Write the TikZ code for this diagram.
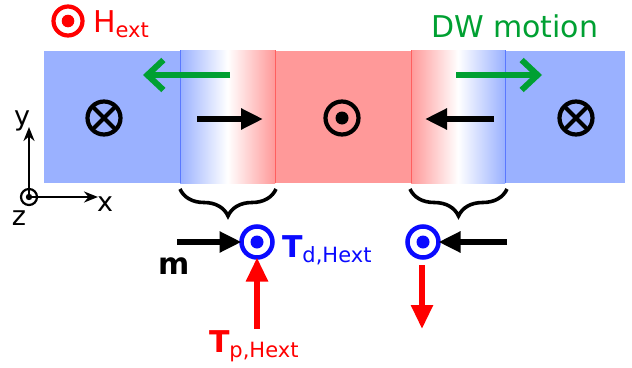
\documentclass[tikz,border=0pt]{standalone}
\usepackage{fontspec}
\setmainfont{DejaVu Sans}
\usetikzlibrary{arrows.meta,decorations.pathreplacing}
\definecolor{dblue}{RGB}{154,177,255}
\definecolor{dred}{RGB}{255,153,153}
\definecolor{lblue}{RGB}{90,120,255}
\definecolor{lred}{RGB}{255,95,95}
\definecolor{mgreen}{RGB}{0,160,50}
\definecolor{tblue}{RGB}{10,10,255}
\tikzset{
  ring/.style={circle,draw,line width=4.2pt,minimum size=33pt,inner sep=0pt,outer sep=0pt},
  lbl/.style={anchor=base west,inner sep=0pt,outer sep=0pt},
  marr/.style={line width=5.5pt,-{Triangle[length=22pt,width=20pt]}},
  garr/.style={mgreen,line width=6pt,-{Straight Barb[length=16pt,width=30pt]}},
  rarr/.style={red,line width=5.5pt,-{Triangle[length=24pt,width=21pt]}},
  axarr/.style={line width=2.2pt,-{Stealth[length=14pt,width=11pt]}},
  brc/.style={decorate,decoration={brace,mirror,amplitude=27pt},line width=3.6pt},
}
\begin{document}
\begin{tikzpicture}[x=1pt,y=-1pt]
\useasboundingbox (0,0) rectangle (632,367);
% strip
\fill[dblue] (44,51) rectangle (180,183);
\shade[left color=dblue,right color=dred,middle color=white] (180,50) rectangle (275,183);
\fill[dred] (275,51) rectangle (411,183);
\shade[left color=dred,right color=dblue,middle color=white] (411,50) rectangle (505,183);
\fill[dblue] (505,51) rectangle (625,183);
\draw[lblue,line width=0.8pt] (180,50) -- (180,183);
\draw[lred,line width=0.8pt] (275,50) -- (275,183);
\draw[lred,line width=0.8pt] (411,50) -- (411,183);
\draw[lblue,line width=0.8pt] (505,50) -- (505,183);
% H ext
\node[ring,draw=red,minimum size=29pt] (hring) at (68,21) {};
\fill[red] (hring.center) circle (6.3);
\node[lbl,text=red,font=\fontsize{30}{30}\selectfont] (hext) at (93,32) {H\raisebox{-5pt}{\fontsize{21}{21}\selectfont ext}};
% DW motion
\node[lbl,text=mgreen,font=\fontsize{30}{30}\selectfont] (dw) at (431,37) {DW motion};
\coordinate (g1s) at (230,75); \coordinate (g1e) at (143,75);
\coordinate (g2s) at (456,75); \coordinate (g2e) at (542,75);
\draw[garr] (g1s) -- (g1e);
\draw[garr] (g2s) -- (g2e);
% domain symbols
\node[ring] (oL) at (104,118) {};
\draw[line width=4pt] (oL.north west) -- (oL.south east) (oL.north east) -- (oL.south west);
\node[ring] (oM) at (342,118) {};
\fill (oM.center) circle (6.5);
\node[ring] (oR) at (576,118) {};
\draw[line width=4pt] (oR.north west) -- (oR.south east) (oR.north east) -- (oR.south west);
% wall magnetization arrows
\coordinate (w1s) at (197,119); \coordinate (w1e) at (263,119);
\coordinate (w2s) at (494,119); \coordinate (w2e) at (425,119);
\draw[marr] (w1s) -- (w1e);
\draw[marr] (w2s) -- (w2e);
% axes
\node[circle,draw,line width=2.2pt,minimum size=16pt,inner sep=0pt] (orig) at (29,197) {};
\fill (orig.center) circle (3.2);
\coordinate (ytip) at (29,127); \coordinate (xtip) at (98,197);
\draw[axarr] (orig.center) -- (ytip);
\draw[axarr] (orig.center) -- (xtip);
\node[lbl,font=\fontsize{27}{27}\selectfont] (ylab) at (14,125) {y};
\node[lbl,font=\fontsize{27}{27}\selectfont] (xlab) at (97,211) {x};
\node[lbl,font=\fontsize{27}{27}\selectfont] (zlab) at (12,225) {z};
% braces
\coordinate (b1a) at (180,189); \coordinate (b1b) at (276,189);
\coordinate (b2a) at (410,189); \coordinate (b2b) at (507,189);
\draw[brc] (b1a) -- (b1b);
\draw[brc] (b2a) -- (b2b);
% blue torque rings
\node[ring,draw=tblue,line width=4.5pt,minimum size=31pt] (tL) at (257,242) {};
\fill[tblue] (tL.center) circle (6.5);
\node[ring,draw=tblue,line width=4.5pt,minimum size=31pt] (tR) at (423,242) {};
\fill[tblue] (tR.center) circle (6.5);
% m arrows
\coordinate (m1s) at (177,242); \coordinate (m2s) at (507,242);
\draw[marr] (m1s) -- (tL.west);
\draw[marr] (m2s) -- (tR.east);
\node[lbl,font=\bfseries\fontsize{30}{30}\selectfont] (mlab) at (158,274) {m};
% T d
\node[lbl,text=tblue,font=\fontsize{30}{30}\selectfont] (td) at (282,257) {\textbf{T}\raisebox{-5pt}{\fontsize{21}{21}\selectfont d,Hext}};
% red arrows
\coordinate (r1s) at (257,329);
\coordinate (r2s) at (422,265); \coordinate (r2e) at (422,329);
\draw[rarr] (r1s) -- (tL.south);
\draw[rarr] (r2s) -- (r2e);
\node[lbl,text=red,font=\fontsize{30}{30}\selectfont] (tp) at (209,352) {\textbf{T}\raisebox{-5pt}{\fontsize{21}{21}\selectfont p,Hext}};
\end{tikzpicture}
\end{document}
